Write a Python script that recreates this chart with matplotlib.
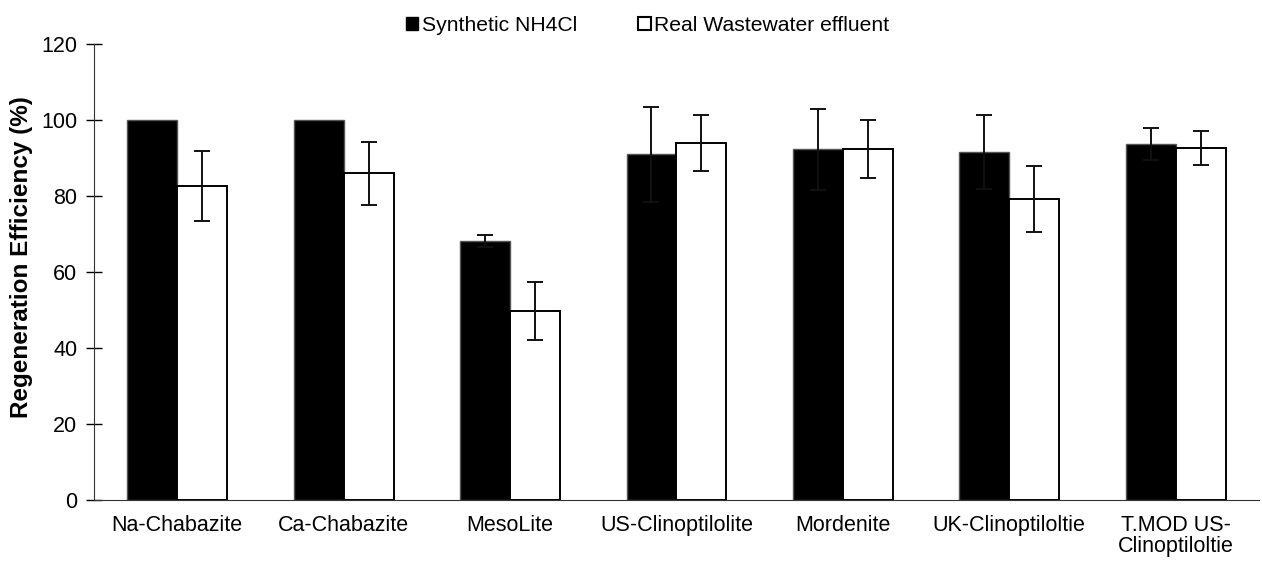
import numpy as np
import matplotlib
matplotlib.use("Agg")
from matplotlib import pyplot as plt
from matplotlib.patches import Patch

plt.rcParams["font.family"] = ["Liberation Sans", "DejaVu Sans"]

materials = [
    "Na-Chabazite",
    "Ca-Chabazite",
    "MesoLite",
    "US-Clinoptilolite",
    "Mordenite",
    "UK-Clinoptiloltie",
    "T.MOD US-\nClinoptiloltie",
]
synthetic = [100.0, 100.0, 68.2, 91.0, 92.3, 91.7, 93.8]
synthetic_err = [0.0, 0.0, 1.5, 12.5, 10.7, 9.7, 4.2]
wastewater = [82.6, 86.0, 49.8, 94.0, 92.4, 79.2, 92.6]
wastewater_err = [9.2, 8.2, 7.7, 7.5, 7.6, 8.7, 4.5]

x = np.arange(len(materials))
width = 0.3

fig = plt.figure(figsize=(12.62, 5.61), dpi=100)
ax = fig.add_axes([0.0745, 0.109, 0.923, 0.812])

ax.bar(x - width / 2, synthetic, width, color="black",
       edgecolor="#555555", linewidth=1.0, zorder=2)
ax.bar(x + width / 2, wastewater, width, color="white",
       edgecolor="black", linewidth=1.4, zorder=2)

# error bars only where a spread was measured
err_kw = dict(fmt="none", ecolor="#111111", elinewidth=1.4, capsize=6, capthick=1.4, zorder=3)
for offset, vals, errs in [(-width / 2, synthetic, synthetic_err),
                           (width / 2, wastewater, wastewater_err)]:
    vals = np.array(vals)
    errs = np.array(errs)
    keep = errs > 0
    ax.errorbar(x[keep] + offset, vals[keep], yerr=errs[keep], **err_kw)

ax.set_xlim(-0.5, len(materials) - 0.5)
ax.set_ylim(0, 120)
ax.set_yticks(np.arange(0, 121, 20))
ax.set_xticks(x)
ax.set_xticklabels(materials, fontsize=15.5, linespacing=1.0)
ax.tick_params(axis="x", length=0, pad=11)
ax.tick_params(axis="y", direction="inout", length=12, width=1, labelsize=15.5, pad=6)
for side in ["top", "right"]:
    ax.spines[side].set_visible(False)
ax.spines["left"].set_color("#333333")
ax.spines["bottom"].set_color("#333333")
ax.set_ylabel("Regeneration Efficiency (%)", fontsize=17.5, fontweight="bold")
ax.yaxis.set_label_coords(-0.052, 0.533)

handles = [
    Patch(facecolor="black", edgecolor="black", label="Synthetic NH4Cl"),
    Patch(facecolor="white", edgecolor="black", linewidth=1.5, label="Real Wastewater effluent"),
]
fig.legend(handles=handles, loc="center", bbox_to_anchor=(0.513, 0.955), ncol=2,
           frameon=False, fontsize=15.2, handlelength=0.6, handleheight=0.6,
           handletextpad=0.15, columnspacing=2.9, borderpad=0.2)

fig.savefig("out.png", dpi=100)
